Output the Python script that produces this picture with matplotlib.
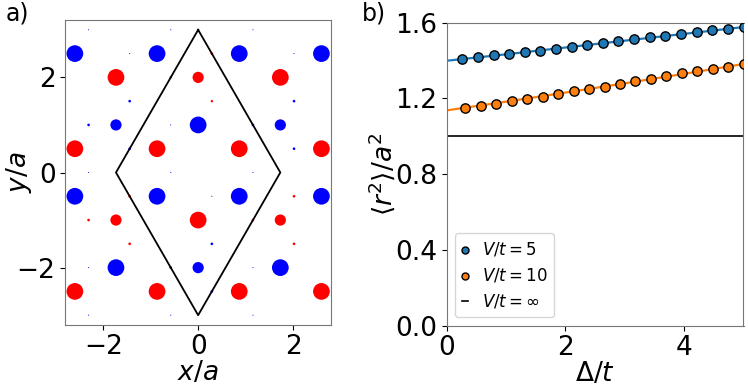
import numpy as np
import matplotlib

matplotlib.use("Agg")  # headless
import matplotlib.pyplot as plt  # noqa: E402

# --- panel a: site charges on the honeycomb lattice ------------------------
# rows sit at y = h/2, sites at x = k/(2*sqrt(3)); red > 0, blue < 0
ROW_H = [6, 5, 4, 3, 2, 1, 0, -1, -2, -3, -4, -5, -6]
K_EVEN = [-8, -6, -2, 0, 4, 6]       # columns used on even rows
K_ODD = [-9, -5, -3, 1, 3, 7, 9]     # columns used on odd rows
charge_rows = [
    [-0.004, 0.0, -0.004, 0.0, -0.004, 0.0],
    [-1.0, -0.004, -1.0, 0.025, -1.0, -0.004, -1.0],
    [0.0, 1.0, 0.02, 0.45, 0.0, 1.0],
    [0.0, -0.025, 0.0, 0.02, 0.0, -0.025, 0.0],
    [-0.025, -0.45, -0.004, -1.0, -0.025, -0.45],
    [1.0, -0.025, 1.0, 0.0, 1.0, -0.025, 1.0],
    [-0.004, 0.0, -0.004, 0.0, -0.004, 0.0],
    [-1.0, 0.025, -1.0, -0.004, -1.0, 0.025, -1.0],
    [0.025, 0.45, 0.0, 1.0, 0.025, 0.45],
    [0.0, 0.025, 0.0, -0.025, 0.0, 0.025, 0.0],
    [-0.004, -1.0, -0.025, -0.45, -0.004, -1.0],
    [1.0, 0.0, 1.0, -0.025, 1.0, 0.0, 1.0],
    [-0.004, 0.0, -0.004, 0.0, -0.004, 0.0],
]
# supercell outline
cell_x = [0.0, np.sqrt(3), 0.0, -np.sqrt(3), 0.0]
cell_y = [3.0, 0.0, -3.0, 0.0, 3.0]

# --- panel b: <r^2>/a^2 vs Delta/t ------------------------------------------
delta_v5 = [0.26, 0.53, 0.79, 1.05, 1.32, 1.58, 1.84, 2.11, 2.37, 2.63,
            2.89, 3.16, 3.42, 3.68, 3.95, 4.21, 4.47, 4.74, 5.0]
r2_v5 = [1.410, 1.418, 1.427, 1.435, 1.444, 1.453, 1.462, 1.472, 1.481, 1.492,
         1.502, 1.512, 1.522, 1.532, 1.541, 1.550, 1.559, 1.567, 1.575]
delta_v10 = [0.31, 0.57, 0.83, 1.10, 1.36, 1.62, 1.88, 2.14, 2.40, 2.66,
             2.92, 3.18, 3.44, 3.70, 3.96, 4.22, 4.48, 4.74, 5.0]
r2_v10 = [1.149, 1.160, 1.172, 1.185, 1.195, 1.209, 1.223, 1.239, 1.251, 1.262,
          1.278, 1.292, 1.304, 1.318, 1.332, 1.345, 1.355, 1.368, 1.382]
fit_delta = [0, 1, 2, 3, 4, 5]
fit_v5 = [1.399, 1.433, 1.469, 1.505, 1.541, 1.577]
fit_v10 = [1.137, 1.183, 1.231, 1.280, 1.330, 1.382]
r2_vinf = 1.0

W, H = 748, 389
fig = plt.figure(figsize=(W / 100, H / 100), dpi=100)


def px_axes(x0, y0, x1, y1):
    return fig.add_axes([x0 / W, 1 - y1 / H, (x1 - x0) / W, (y1 - y0) / H])


TICK_FS = 19
LABEL_FS = 19

# ---- a)
ax = px_axes(65.3, 20.3, 331.0, 324.7)
xs, ys, qs = [], [], []
for h, row in zip(ROW_H, charge_rows):
    cols = K_EVEN if h % 2 == 0 else K_ODD
    for k, q in zip(cols, row):
        xs.append(k / (2 * np.sqrt(3)))
        ys.append(h / 2)
        qs.append(q)
qs = np.array(qs)
ax.scatter(xs, ys, s=145 * np.abs(qs), c=np.where(qs > 0, "red", "blue"),
           edgecolors="none")
ax.plot(cell_x, cell_y, color="black", lw=1.3)
ax.set_xlim(-2.8, 2.8)
ax.set_ylim(-3.2, 3.2)
ax.set_xticks([-2, 0, 2])
ax.set_yticks([-2, 0, 2])
ax.tick_params(labelsize=TICK_FS)
ax.set_xlabel("$x/a$", fontsize=LABEL_FS, labelpad=0)
ax.set_ylabel("$y/a$", fontsize=LABEL_FS)
ax.yaxis.set_label_coords(-0.118, 0.5)

# ---- b)
bx = px_axes(446.7, 22.7, 743.5, 325.7)
bx.plot(fit_delta, fit_v5, color="C0", lw=1.6, zorder=2)
bx.plot(fit_delta, fit_v10, color="C1", lw=1.6, zorder=2)
bx.scatter(delta_v5, r2_v5, s=45, color="C0", edgecolors="black", lw=1,
           zorder=3, label="$V/t=5$")
bx.scatter(delta_v10, r2_v10, s=45, color="C1", edgecolors="black", lw=1,
           zorder=3, label="$V/t=10$")
bx.axhline(r2_vinf, color="black", lw=1.2, label=r"$V/t=\infty$")
bx.set_xlim(0, 5)
bx.set_ylim(0, 1.6)
bx.set_xticks([0, 2, 4])
bx.set_yticks([0.0, 0.4, 0.8, 1.2, 1.6])
bx.tick_params(labelsize=TICK_FS)
bx.set_xlabel(r"$\Delta/t$", fontsize=LABEL_FS, labelpad=0)
bx.set_ylabel(r"$\langle r^2\rangle/a^2$", fontsize=LABEL_FS)
bx.yaxis.set_label_coords(-0.164, 0.5)
bx.legend(loc="lower left", fontsize=12, markerscale=0.75, handlelength=0.4,
          handletextpad=0.8)

for a in (ax, bx):
    for sp in a.spines.values():
        sp.set_color("#777777")

fig.text(6 / W, 1 - 1 / H, "a)", fontsize=17, va="top", ha="left")
fig.text(362 / W, 1 - 1 / H, "b)", fontsize=17, va="top", ha="left")

fig.savefig("out.png", dpi=100)
